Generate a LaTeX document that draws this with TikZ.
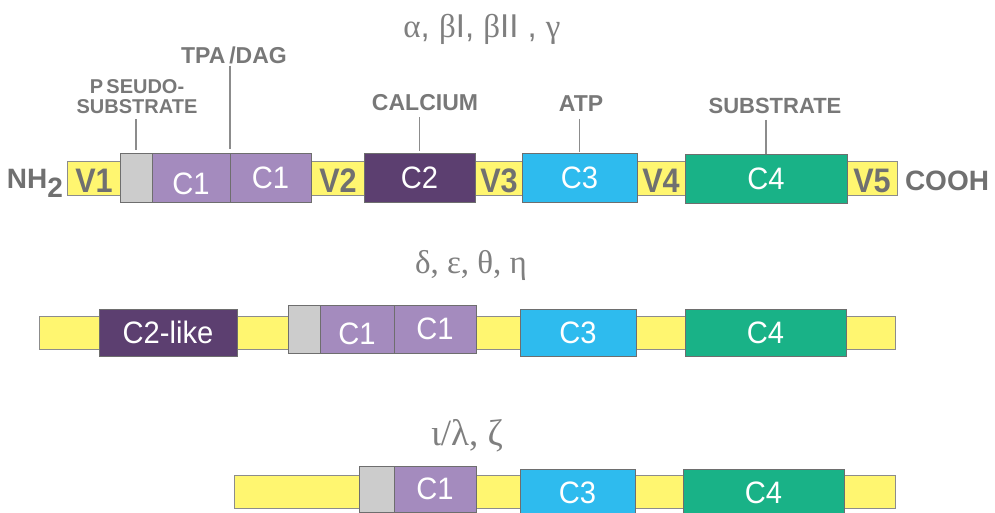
\documentclass[tikz,border=0pt]{standalone}
\usepackage{fontspec}
\setmainfont{Liberation Sans}
\newfontfamily\grkfont{Liberation Serif}
\newfontfamily\condfont[FakeStretch=0.9]{Liberation Sans}
\newfontfamily\domfont[FakeStretch=0.94]{Liberation Sans}
\usetikzlibrary{calc}

\definecolor{vyellow}{HTML}{FFF670}
\definecolor{psgray}{HTML}{CCCCCC}
\definecolor{cone}{HTML}{A48BBE}
\definecolor{ctwo}{HTML}{5C3F70}
\definecolor{cthree}{HTML}{2EBBEE}
\definecolor{cfour}{HTML}{19B287}
\definecolor{labgray}{HTML}{707070}
\definecolor{sitegray}{HTML}{787878}
\definecolor{isogray}{HTML}{7F7F7F}
\definecolor{domline}{HTML}{6E6E6E}
\definecolor{barline}{HTML}{8C8C8C}
\definecolor{tickgray}{HTML}{8C8C8C}

% lowered label that keeps its natural box, so the node stays centred
\newcommand\lowlab[2]{\raisebox{-#1}[\height][0pt]{#2}}

\begin{document}
\begin{tikzpicture}[x=1pt,y=-1pt,
  every node/.style={inner sep=0pt, outer sep=0pt},
  bar/.style={draw=barline, fill=vyellow, line width=1pt, anchor=north west},
  dom/.style={draw=domline, line width=1pt, anchor=north west, text=white,
    font=\fontsize{31}{31}\domfont},
  vlab/.style={text=labgray, font=\fontsize{34}{34}\condfont\bfseries},
  site/.style={text=sitegray, font=\fontsize{23}{23}\selectfont\bfseries, align=center},
  tick/.style={draw=tickgray, line width=1.2pt},
  iso/.style={text=isogray, font=\fontsize{33}{33}\selectfont}]
\useasboundingbox (0,0) rectangle (995,513);
\clip (0,0) rectangle (995,513);

% ---- classical isoforms ----
\node[iso] (t1) at (482,29) {{\grkfont α}, {\grkfont β}I, {\grkfont β}II , {\grkfont γ}};
\node[bar, minimum width=830pt, minimum height=33pt] (bar1) at (67,162) {};
\node[dom, fill=psgray, minimum width=32pt, minimum height=48pt] (ps1) at (120,154) {};
\node[dom, fill=cone, minimum width=78pt, minimum height=48pt] (c1a) at (152,154) {\lowlab{6pt}{C1}};
\node[dom, fill=cone, minimum width=81pt, minimum height=48pt] (c1b) at (230,154) {C1};
\node[dom, fill=ctwo, minimum width=111pt, minimum height=48pt] (c2) at (364,154) {C2};
\node[dom, fill=cthree, minimum width=115pt, minimum height=48pt] (c3) at (522,154) {C3};
\node[dom, fill=cfour, minimum width=162pt, minimum height=48pt] (c4) at (685,155) {C4};

\node[vlab] (v1) at (94,180.5) {V1};
\node[vlab] (v2) at (338,180.5) {V2};
\node[vlab] (v3) at (499,180.5) {V3};
\node[vlab] (v4) at (661,180.5) {V4};
\node[vlab] (v5) at (872,180.5) {V5};
\node[vlab, anchor=east, font=\fontsize{28}{28}\selectfont\bfseries] (nh) at (63,179)
  {NH\lowlab{9pt}{\fontsize{28}{28}\selectfont 2}};
\node[vlab, anchor=west, font=\fontsize{28}{28}\selectfont\bfseries] (cooh) at (905,181) {COOH};

% binding-site labels and their ticks
\node[site, font=\fontsize{20}{20}\selectfont\bfseries] (pseudo) at (137,97) {P\,SEUDO-\\SUBSTRATE};
\node[site] (tpa) at (234,55) {TPA\,/DAG};
\node[site] (cal) at (425,103) {CALCIUM};
\node[site] (atp) at (581,104) {ATP};
\node[site, font=\fontsize{22}{22}\selectfont\bfseries] (sub) at (775,106) {SUBSTRATE};

\draw[tick] ($(pseudo.south -| ps1.north)+(0,5)$) -- ($(ps1.north)+(0,-4)$);
\draw[tick] ($(tpa.south -| c1b.north west)+(0,2)$) -- ($(c1b.north west)+(0,-5)$);
\draw[tick] ($(cal.south -| c2.north)+(0,6)$) -- ($(c2.north)+(0,-3)$);
\draw[tick] ($(atp.south -| c3.north)+(0,7)$) -- ($(c3.north)+(0,-2)$);
\draw[tick] ($(sub.south -| c4.north)+(0,6)$) -- ($(c4.north)+(0,-1)$);

% ---- novel isoforms ----
\node[iso, font=\fontsize{33}{33}\selectfont\grkfont] (t2) at (471,265) {δ, ε, θ, η};
\node[bar, minimum width=856pt, minimum height=33pt] (bar2) at (39,316) {};
\node[dom, fill=ctwo, minimum width=138pt, minimum height=47pt] (c2l) at (99,309) {C2-like};
\node[dom, fill=psgray, minimum width=32pt, minimum height=48pt] (ps2) at (288,305) {};
\node[dom, fill=cone, minimum width=74pt, minimum height=48pt] (c1c) at (320,305) {\lowlab{5pt}{C1}};
\node[dom, fill=cone, minimum width=82pt, minimum height=48pt] (c1d) at (394,305) {C1};
\node[dom, fill=cthree, minimum width=116pt, minimum height=47pt] (c3b) at (520,309) {C3};
\node[dom, fill=cfour, minimum width=161pt, minimum height=47pt] (c4b) at (685,309) {C4};

% ---- atypical isoforms ----
\node[iso, font=\fontsize{37}{37}\selectfont\grkfont] (t3) at (467,436) {ι/λ, ζ};
\node[bar, minimum width=661pt, minimum height=33pt] (bar3) at (234,475) {};
\node[dom, fill=psgray, minimum width=35pt, minimum height=46pt] (ps3) at (359,466) {};
\node[dom, fill=cone, minimum width=82pt, minimum height=46pt] (c1e) at (394,466) {C1};
\node[dom, fill=cthree, minimum width=115pt, minimum height=48pt] (c3c) at (520,469) {C3};
\node[dom, fill=cfour, minimum width=161pt, minimum height=48pt] (c4c) at (683,469) {C4};
\end{tikzpicture}
\end{document}
